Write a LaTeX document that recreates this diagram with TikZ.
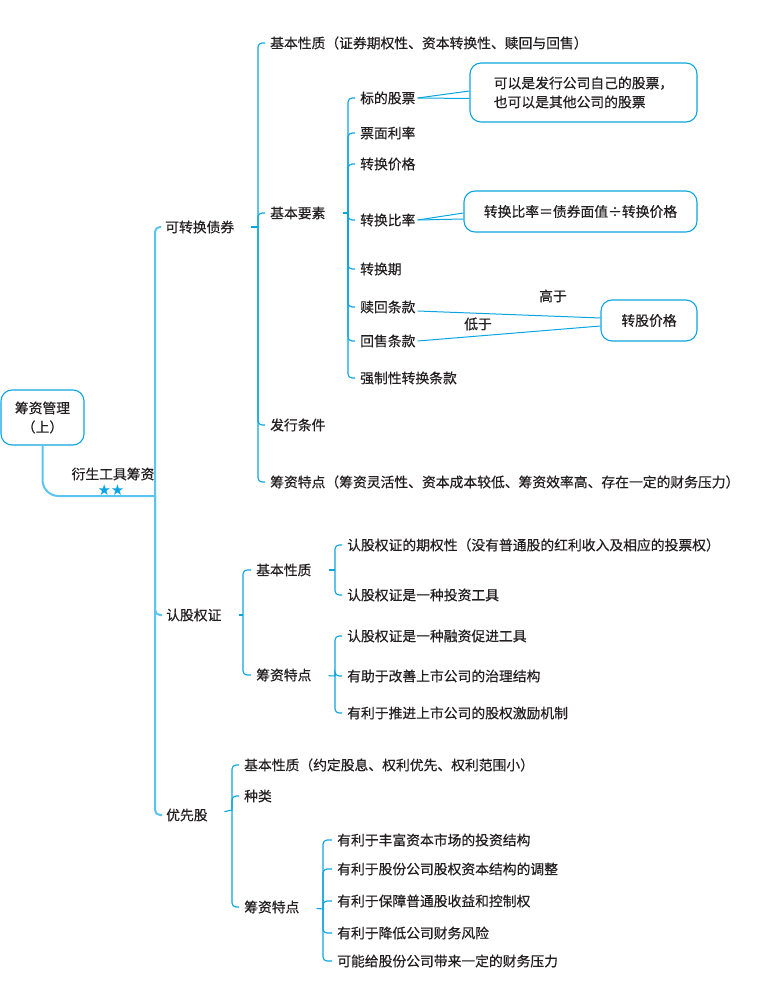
\documentclass[tikz,border=0pt]{standalone}
\usepackage{fontspec}
\setmainfont{Noto Sans CJK SC}[FakeBold=0.5]
\newfontfamily\starfont{DejaVu Sans}
\definecolor{mapblue}{HTML}{0AA5E0}
\definecolor{trunkblue}{HTML}{5BC5F2}
\definecolor{txtgray}{HTML}{231F20}
\tikzset{
    item/.style={anchor=west,inner xsep=2pt,inner ysep=1pt,text=txtgray,
        font=\fontsize{13.8}{17}\selectfont},
    tag/.style={inner sep=1pt,text=txtgray,font=\fontsize{13.8}{17}\selectfont},
    hook/.style={draw=mapblue,line width=1.1pt,rounded corners=4pt,shorten >=3pt},
    stub/.style={draw=mapblue,line width=1.1pt,shorten <=15pt},
    trunk/.style={draw=trunkblue,line width=2pt},
    link/.style={draw=mapblue,line width=1pt},
    notebox/.style={draw=mapblue,line width=1.1pt,rounded corners=11pt,
        text=txtgray,font=\fontsize{13.8}{19}\selectfont,align=left}
}
\begin{document}
\begin{tikzpicture}[x=1pt,y=-1pt]
    \useasboundingbox (0,0) rectangle (763,984);
    % root and trunk
    \node[notebox,align=center,minimum width=83pt,minimum height=55pt] (root) at (42.5,417.5) {筹资管理\\（上）};
    \coordinate (trunkj) at (155,496);
    \node[tag] (yst) at (113,474) {衍生工具筹资};
    \node[text=mapblue,inner sep=0pt,font=\starfont\fontsize{15}{15}\selectfont] (stars) at (111,490) {★★};
    \node[item] (kz) at (163,227) {可转换债券};
    \node[item] (rg) at (164,615) {认股权证};
    \node[item] (yx) at (164,815) {优先股};
    \draw[trunk,rounded corners=16pt] (root.south) |- (trunkj);
    \foreach \c in {kz,rg,yx}
    \draw[trunk,rounded corners=5pt,shorten >=2pt] (trunkj) |- (\c.west);

    % convertible bonds
    \coordinate (kzj) at (258,227);
    \node[item] (a1) at (268,43) {基本性质（证券期权性、资本转换性、赎回与回售）};
    \node[item] (a2) at (268,213) {基本要素};
    \node[item] (a3) at (268,425) {发行条件};
    \node[item] (a4) at (268,482) {筹资特点（筹资灵活性、资本成本较低、筹资效率高、存在一定的财务压力）};
    \draw[stub] (kz.east) -- (kzj);
    \foreach \c in {a1,a2,a3,a4}
    \draw[hook] (kzj) |- (\c.west);

    \coordinate (a2j) at (348,213);
    \node[item] (b1) at (358,98) {标的股票};
    \node[item] (b2) at (358,133) {票面利率};
    \node[item] (b3) at (358,164) {转换价格};
    \node[item] (b4) at (358,220) {转换比率};
    \node[item] (b5) at (358,269) {转换期};
    \node[item] (b6) at (358,307) {赎回条款};
    \node[item] (b7) at (358,341) {回售条款};
    \node[item] (b8) at (358,378) {强制性转换条款};
    \draw[stub] (a2.east) -- (a2j);
    \foreach \c in {b1,b2,b3,b4,b5,b6,b7,b8}
    \draw[hook] (a2j) |- (\c.west);

    \node[notebox,minimum width=227pt,minimum height=59pt] (bx1) at (583.5,92.5) {可以是发行公司自己的股票，\\也可以是其他公司的股票};
    \node[notebox,minimum width=233pt,minimum height=41pt] (bx2) at (580.5,211.5) {转换比率＝债券面值÷转换价格};
    \node[notebox,align=center,minimum width=96pt,minimum height=41pt] (bx3) at (649,320.5) {转股价格};
    \draw[link] (b1.east) -- ([yshift=1.5pt]bx1.west);
    \draw[link] (b1.east) -- ([yshift=-6pt]bx1.west);
    \draw[link] (b4.east) -- ([yshift=-1.5pt]bx2.west);
    \draw[link] (b4.east) -- ([yshift=-7.5pt]bx2.west);
    \draw[link] ([yshift=-4pt]b6.east) -- ([yshift=2.5pt]bx3.west);
    \draw[link] (b7.east) -- ([yshift=-5.5pt]bx3.west);
    \node[tag] (gy) at (553,296) {高于};
    \node[tag] (dy) at (478,324) {低于};

    % warrants
    \coordinate (rgj) at (243,615);
    \node[item] (c1) at (254,570) {基本性质};
    \node[item] (c2) at (254,675) {筹资特点};
    \draw[stub] (rg.east) -- (rgj);
    \foreach \c in {c1,c2}
    \draw[hook] (rgj) |- (\c.west);

    \coordinate (c1j) at (335,570);
    \node[item] (d1) at (345,545) {认股权证的期权性（没有普通股的红利收入及相应的投票权）};
    \node[item] (d2) at (345,595) {认股权证是一种投资工具};
    \draw[stub] (c1.east) -- (c1j);
    \foreach \c in {d1,d2}
    \draw[hook] (c1j) |- (\c.west);

    \coordinate (c2j) at (335,676);
    \node[item] (e1) at (345,636) {认股权证是一种融资促进工具};
    \node[item] (e2) at (345,676) {有助于改善上市公司的治理结构};
    \node[item] (e3) at (345,713) {有利于推进上市公司的股权激励机制};
    \draw[stub] (c2.east) -- (c2j);
    \foreach \c in {e1,e2,e3}
    \draw[hook] (c2j) |- (\c.west);

    % preferred stock
    \coordinate (yxj) at (232,810);
    \node[item] (f1) at (242,765) {基本性质（约定股息、权利优先、权利范围小）};
    \node[item] (f2) at (242,796) {种类};
    \node[item] (f3) at (242,907) {筹资特点};
    \draw[stub] (yx.east) -- (yxj);
    \foreach \c in {f1,f2,f3}
    \draw[hook] (yxj) |- (\c.west);

    \coordinate (f3j) at (323,909);
    \node[item] (g1) at (335,840) {有利于丰富资本市场的投资结构};
    \node[item] (g2) at (335,869) {有利于股份公司股权资本结构的调整};
    \node[item] (g3) at (335,901) {有利于保障普通股收益和控制权};
    \node[item] (g4) at (335,933) {有利于降低公司财务风险};
    \node[item] (g5) at (335,961) {可能给股份公司带来一定的财务压力};
    \draw[stub] (f3.east) -- (f3j);
    \foreach \c in {g1,g2,g3,g4,g5}
    \draw[hook] (f3j) |- (\c.west);
\end{tikzpicture}
\end{document}
